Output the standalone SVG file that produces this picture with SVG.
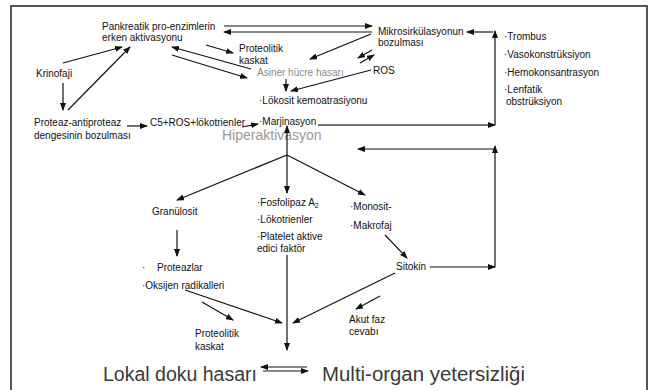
<svg xmlns="http://www.w3.org/2000/svg" width="651" height="390" viewBox="0 0 651 390">
<defs>
<marker id="ah" markerUnits="userSpaceOnUse" markerWidth="8" markerHeight="6" refX="7" refY="3" orient="auto">
<path d="M0,0 L8,3 L0,6 z" fill="#111"/>
</marker>
<style>
text{font-family:"Liberation Sans",Arial,sans-serif;font-size:10px;fill:#111}
.g{fill:#8a8a8a}
.big{font-size:20px;fill:#3a3a3a}
.c line{stroke:#111;stroke-width:1.2;marker-end:url(#ah)}
</style>
</defs>
<rect width="651" height="390" fill="#fff"/>
<path d="M11,390 V6 H647 V390" fill="none" stroke="#555" stroke-width="2"/>

<g id="pankreatik"><text x="102" y="30">Pankreatik pro-enzimlerin</text><text x="102" y="41">erken aktivasyonu</text></g>
<g id="mikro"><text x="378" y="35">Mikrosirkülasyonun</text><text x="378" y="46">bozulması</text></g>
<g id="proteolitik1"><text x="239" y="52">Proteolitik</text><text x="239" y="64">kaskat</text></g>
<g id="asiner"><text class="g" x="257" y="76">Asiner hücre hasarı</text></g>
<g id="ros"><text x="373" y="74">ROS</text></g>
<g id="lokosit"><text x="259" y="104">·Lökosit kemoatrasiyonu</text></g>
<g id="krinofaji"><text x="36" y="77">Krinofaji</text></g>
<g id="proteaz"><text x="34" y="126">Proteaz-antiproteaz</text><text x="34" y="139">dengesinin bozulması</text></g>
<g id="c5"><text x="150" y="126">C5+ROS+lökotrienler</text></g>
<g id="marjinasyon"><text x="259" y="125">·Marjinasyon</text></g>
<g id="hiper"><text x="222" y="140" style="font-size:14px;fill:#999">Hiperaktivasyon</text></g>
<g id="liste"><text x="504" y="40">·Trombus</text><text x="504" y="58">·Vasokonstrüksiyon</text><text x="504" y="76">·Hemokonsantrasyon</text><text x="504" y="93">·Lenfatik</text><text x="506" y="105">obstrüksiyon</text></g>
<g id="granulosit"><text x="152" y="215">Granülosit</text></g>
<g id="fosfolipaz"><text x="257" y="206">·Fosfolipaz A<tspan dy="2" style="font-size:7px">2</tspan></text><text x="257" y="223">·Lökotrienler</text><text x="257" y="240">·Platelet aktive</text><text x="257" y="252">edici faktör</text></g>
<g id="monosit"><text x="350" y="210">·Monosit-</text><text x="350" y="229">·Makrofaj</text></g>
<g id="sitokin"><text x="396" y="270">Sitokin</text></g>
<g id="proteazlar"><text x="142" y="271">·</text><text x="157" y="271">Proteazlar</text><text x="142" y="289">·Oksijen radikalleri</text></g>
<g id="proteolitik2"><text x="195" y="337">Proteolitik</text><text x="195" y="350">kaskat</text></g>
<g id="akut"><text x="349" y="323">Akut faz</text><text x="349" y="335">cevabı</text></g>
<g id="lokal"><text class="big" x="103" y="381" textLength="154" lengthAdjust="spacingAndGlyphs">Lokal doku hasarı</text></g>
<g id="multi"><text class="big" x="322" y="381" textLength="203" lengthAdjust="spacingAndGlyphs">Multi-organ yetersizliği</text></g>

<g id="connectors" class="c">
<line x1="224" y1="26" x2="372" y2="26"/>
<line x1="372" y1="32" x2="224" y2="32"/>
<line x1="493" y1="32" x2="467" y2="32"/>
<line x1="495" y1="125" x2="495" y2="31"/>
<line x1="318" y1="125" x2="495" y2="125" style="stroke:#444;stroke-width:1.6"/>
<line x1="206" y1="45" x2="233" y2="53"/>
<line x1="251" y1="69" x2="172" y2="47"/>
<line x1="172" y1="55" x2="247" y2="78"/>
<line x1="371" y1="34" x2="310" y2="59"/>
<line x1="372" y1="50" x2="358" y2="58"/>
<line x1="360" y1="63" x2="374" y2="55"/>
<line x1="371" y1="70" x2="291" y2="91"/>
<line x1="286" y1="79" x2="286" y2="91"/>
<line x1="63" y1="63" x2="122" y2="47"/>
<line x1="68" y1="110" x2="130" y2="47"/>
<line x1="63" y1="83" x2="63" y2="110"/>
<line x1="127" y1="126" x2="147" y2="126"/>
<line x1="242" y1="127" x2="258" y2="124"/>
<line x1="287" y1="155" x2="287" y2="126"/>
<line x1="287" y1="155" x2="177" y2="200"/>
<line x1="287" y1="155" x2="287" y2="193"/>
<line x1="287" y1="155" x2="365" y2="195"/>
<line x1="495" y1="149" x2="358" y2="149"/>
<line x1="495" y1="267" x2="495" y2="146"/>
<line x1="430" y1="267" x2="495" y2="267"/>
<line x1="177" y1="230" x2="177" y2="256"/>
<line x1="385" y1="235" x2="407" y2="258"/>
<line x1="287" y1="255" x2="287" y2="350"/>
<line x1="185" y1="290" x2="282" y2="323"/>
<line x1="395" y1="273" x2="293" y2="323"/>
<line x1="202" y1="302" x2="233" y2="320"/>
<line x1="380" y1="296" x2="356" y2="309"/>
<line x1="307" y1="367" x2="261" y2="367"/>
<line x1="263" y1="371" x2="308" y2="371"/>
</g>
</svg>
